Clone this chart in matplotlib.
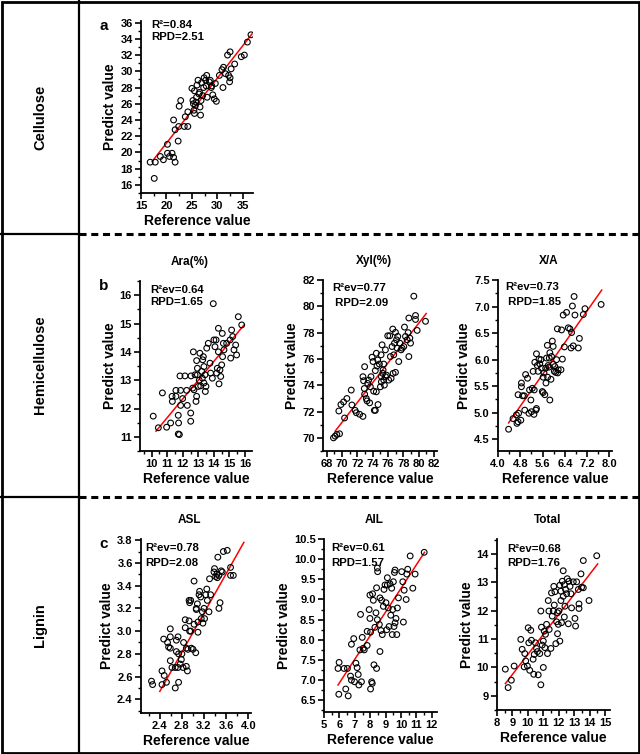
import numpy as np
import matplotlib
matplotlib.use("Agg")
import matplotlib.pyplot as plt
from matplotlib.lines import Line2D
from matplotlib.patches import Rectangle
from matplotlib.ticker import MultipleLocator, AutoMinorLocator, FormatStrFormatter

plt.rcParams['font.family'] = ['Liberation Sans', 'DejaVu Sans']
plt.rcParams['font.weight'] = 'bold'

# ---- data ----
cel_x = [16.8, 17.8, 17.6, 18.8, 19.4, 20.2, 20.2, 20.6, 21.1, 21.4, 21.7, 21.4, 21.7, 22.3, 22.4,
         22.5, 22.8, 23.5, 23.7, 24.2, 24.2, 25.0, 25.2, 25.4, 25.5, 25.7, 25.8, 25.9, 25.5, 26.0,
         26.2, 26.5, 26.6, 26.7, 26.8, 26.9, 27.1, 27.3, 27.7, 27.8, 27.9, 28.0, 28.4, 28.8, 28.9,
         29.1, 29.4, 29.8, 29.6, 30.4, 30.9, 31.2, 31.1, 31.6, 32.0, 32.5, 32.2, 32.5, 32.7, 32.4,
         33.4, 34.7, 35.3, 35.9, 36.6, 28.6, 27.4, 25.3, 26.4]
cel_y = [18.8, 18.8, 16.8, 19.5, 19.1, 21.0, 19.9, 19.5, 19.9, 19.4, 18.8, 24.0, 22.8, 21.4, 23.2,
         25.7, 26.4, 23.2, 24.4, 23.2, 25.0, 27.9, 26.4, 25.2, 24.8, 25.8, 26.2, 26.8, 27.6, 28.3,
         28.9, 27.4, 25.6, 24.6, 26.4, 28.6, 27.0, 28.0, 28.9, 28.2, 29.5, 26.8, 28.7, 28.0, 28.2,
         27.1, 26.6, 26.3, 28.5, 29.5, 30.2, 30.5, 28.0, 29.7, 32.0, 32.4, 29.5, 29.2, 30.3, 28.7,
         30.9, 31.8, 32.0, 33.6, 34.5, 28.9, 29.2, 26.0, 27.2]
cel_fit_x = [17.2, 36.8]
cel_fit_y = [18.9, 34.6]

ara_x = [10.10, 10.43, 10.69, 10.96, 11.22, 11.31, 11.33, 11.56, 11.56, 11.71, 11.73, 11.71, 11.78,
         11.82, 11.86, 11.86, 11.99, 12.14, 12.25, 12.29, 12.51, 12.51, 12.53, 12.64, 12.68, 12.72,
         12.79, 12.85, 12.89, 12.89, 12.94, 12.94, 13.00, 13.06, 13.10, 13.15, 13.21, 13.26, 13.28,
         13.32, 13.36, 13.36, 13.43, 13.45, 13.49, 13.54, 13.64, 13.75, 13.79, 13.90, 13.96, 14.00,
         14.07, 14.14, 14.18, 14.22, 14.29, 14.29, 14.33, 14.39, 14.44, 14.50, 14.54, 14.56, 14.61,
         14.65, 14.82, 15.04, 15.08, 15.14, 15.21, 15.29, 15.40, 15.46, 15.57, 15.79]
ara_y = [11.73, 11.32, 12.55, 11.34, 11.49, 12.43, 12.25, 12.64, 12.43, 11.76, 11.49, 11.10, 11.08,
         13.15, 12.64, 12.11, 12.35, 13.15, 12.64, 12.11, 11.84, 11.55, 13.15, 12.72, 14.00, 12.66,
         13.19, 12.25, 13.69, 12.43, 13.42, 13.19, 12.78, 13.00, 13.95, 12.80, 13.31, 13.07, 13.72,
         13.83, 13.48, 12.90, 13.19, 12.60, 12.78, 14.13, 14.30, 13.60, 13.25, 13.07, 15.70, 14.42,
         14.18, 14.42, 13.25, 13.42, 14.83, 14.00, 12.87, 13.36, 13.13, 13.54, 14.65, 13.83, 14.30,
         14.07, 14.30, 14.42, 13.78, 14.77, 14.54, 14.07, 14.24, 13.89, 15.24, 14.95]
ara_fit_x = [10.28, 15.94]
ara_fit_y = [11.20, 14.95]

xyl_x = [68.87, 69.09, 69.31, 69.66, 69.57, 69.84, 70.19, 70.32, 70.62, 71.19, 71.28, 71.70, 71.85,
         72.29, 72.72, 72.72, 72.81, 72.90, 72.94, 72.94, 73.16, 73.25, 73.34, 73.47, 73.60, 73.69,
         73.77, 73.91, 74.04, 74.12, 74.21, 74.34, 74.34, 74.47, 74.47, 74.56, 74.65, 74.69, 74.87,
         75.00, 75.09, 75.13, 75.13, 75.22, 75.31, 75.35, 75.44, 75.44, 75.52, 75.66, 75.66, 75.79,
         75.96, 76.09, 76.22, 76.31, 76.40, 76.53, 76.62, 76.66, 76.75, 76.84, 76.97, 76.97, 77.10,
         77.19, 77.27, 77.40, 77.54, 77.71, 77.84, 78.06, 78.15, 78.28, 78.50, 78.63, 78.72, 78.72,
         78.85, 78.94, 79.37, 79.59, 79.59, 79.81, 80.90]
xyl_y = [70.00, 70.13, 70.26, 70.31, 72.04, 72.53, 72.73, 71.51, 72.99, 73.63, 72.50, 72.09, 71.91,
         71.79, 71.63, 74.65, 74.34, 73.75, 73.32, 75.41, 72.99, 72.81, 74.14, 74.39, 72.66, 73.88,
         74.65, 76.13, 75.80, 73.55, 72.09, 75.11, 72.09, 73.50, 76.43, 75.46, 75.92, 72.53, 75.61,
         73.88, 76.31, 74.65, 74.26, 77.07, 74.90, 75.16, 75.61, 74.39, 74.01, 76.69, 74.65, 74.77,
         77.76, 74.39, 77.76, 76.18, 74.52, 76.94, 78.27, 74.90, 76.31, 77.20, 74.98, 78.02, 77.45,
         76.82, 77.71, 75.80, 77.20, 76.69, 76.82, 76.94, 78.42, 77.71, 77.45, 78.00, 76.18, 79.11,
         77.58, 77.20, 80.77, 79.00, 79.30, 78.17, 78.86]
xyl_fit_x = [69.09, 80.99]
xyl_fit_y = [70.51, 79.45]

xa_x = [4.38, 4.54, 4.66, 4.68, 4.72, 4.74, 4.82, 4.72, 4.84, 4.84, 4.88, 4.94, 4.96, 4.99, 5.06,
        5.11, 5.13, 5.18, 5.20, 5.23, 5.26, 5.29, 5.30, 5.32, 5.36, 5.38, 5.38, 5.41, 5.44, 5.47,
        5.50, 5.54, 5.56, 5.59, 5.62, 5.62, 5.65, 5.68, 5.71, 5.72, 5.74, 5.77, 5.78, 5.80, 5.83,
        5.84, 5.86, 5.86, 5.90, 5.92, 5.95, 5.98, 5.98, 6.02, 6.04, 6.07, 6.10, 6.13, 6.14, 6.16,
        6.26, 6.28, 6.31, 6.34, 6.38, 6.46, 6.52, 6.58, 6.62, 6.64, 6.67, 6.70, 6.73, 6.76, 6.88,
        6.92, 7.06, 7.12, 7.70]
xa_y = [4.69, 4.89, 4.96, 4.80, 4.83, 4.99, 4.86, 5.34, 5.56, 5.49, 5.32, 5.32, 5.05, 5.72, 5.65,
        4.99, 5.43, 5.24, 5.02, 5.46, 5.78, 4.97, 5.43, 5.95, 5.05, 5.08, 6.11, 5.89, 5.78, 6.01,
        5.92, 6.00, 5.84, 5.40, 5.67, 5.38, 5.75, 5.34, 5.84, 5.56, 6.03, 6.27, 5.67, 5.89, 5.86,
        6.03, 5.24, 6.13, 5.63, 6.06, 6.35, 6.25, 5.91, 5.78, 5.87, 5.76, 6.00, 6.58, 5.75, 5.81,
        5.81, 6.56, 6.01, 6.84, 6.24, 6.89, 6.60, 6.58, 6.22, 6.51, 7.01, 6.26, 7.19, 6.84, 6.22,
        6.40, 6.85, 6.96, 7.04]
xa_fit_x = [4.38, 7.72]
xa_fit_y = [4.81, 7.31]

asl_x = [2.25, 2.27, 2.44, 2.44, 2.47, 2.48, 2.52, 2.54, 2.56, 2.59, 2.59, 2.59, 2.59, 2.62, 2.68,
         2.68, 2.70, 2.70, 2.73, 2.73, 2.74, 2.74, 2.77, 2.79, 2.80, 2.82, 2.83, 2.86, 2.86, 2.88,
         2.88, 2.90, 2.91, 2.93, 2.93, 2.94, 2.94, 2.96, 2.96, 2.97, 3.00, 3.02, 3.02, 3.05, 3.06,
         3.06, 3.08, 3.09, 3.09, 3.11, 3.12, 3.14, 3.15, 3.17, 3.18, 3.20, 3.21, 3.23, 3.25, 3.26,
         3.29, 3.30, 3.32, 3.38, 3.39, 3.41, 3.43, 3.44, 3.45, 3.47, 3.47, 3.49, 3.51, 3.53, 3.55,
         3.62, 3.68, 3.68, 3.73]
asl_y = [2.56, 2.53, 2.65, 2.53, 2.93, 2.61, 2.55, 2.90, 2.86, 3.02, 2.95, 2.85, 2.74, 2.68, 2.50,
         2.68, 2.92, 2.82, 2.68, 2.95, 2.55, 2.80, 2.71, 2.75, 2.80, 2.68, 2.90, 3.10, 3.03, 2.69,
         2.85, 2.65, 2.84, 3.27, 3.09, 3.00, 3.25, 3.27, 3.00, 2.85, 2.84, 3.44, 3.06, 2.81, 3.20,
         3.19, 3.24, 3.08, 2.99, 3.32, 3.35, 3.30, 3.11, 3.17, 3.07, 3.20, 3.11, 3.32, 3.37, 3.27,
         3.17, 3.46, 3.32, 3.52, 3.55, 3.48, 3.50, 3.47, 3.65, 3.49, 3.20, 3.25, 3.53, 3.52, 3.70,
         3.71, 3.56, 3.49, 3.49]
asl_fit_x = [2.40, 3.92]
asl_fit_y = [2.47, 3.78]

ail_x = [5.91, 5.96, 5.98, 6.30, 6.41, 6.52, 6.57, 6.72, 6.78, 6.78, 6.93, 6.98, 7.07, 7.15, 7.22,
         7.26, 7.33, 7.37, 7.43, 7.48, 7.54, 7.61, 7.80, 7.80, 7.93, 7.98, 7.98, 8.02, 8.02, 8.09,
         8.13, 8.15, 8.20, 8.24, 8.30, 8.37, 8.41, 8.41, 8.46, 8.46, 8.48, 8.59, 8.63, 8.63, 8.70,
         8.74, 8.78, 8.85, 8.89, 8.96, 9.02, 9.07, 9.11, 9.11, 9.17, 9.22, 9.28, 9.33, 9.39, 9.43,
         9.46, 9.50, 9.54, 9.57, 9.61, 9.61, 9.67, 9.72, 9.76, 9.83, 10.04, 10.11, 10.15, 10.20,
         10.33, 10.37, 10.43, 10.59, 10.76, 10.91, 11.50]
ail_y = [7.29, 6.65, 7.44, 7.29, 6.78, 7.29, 6.61, 7.10, 7.00, 7.89, 8.03, 6.96, 7.42, 7.31, 7.14,
         6.88, 7.75, 8.63, 6.96, 8.06, 7.79, 7.75, 7.86, 8.21, 8.75, 8.53, 9.11, 8.19, 6.78, 6.96,
         6.92, 9.14, 8.98, 7.38, 8.31, 8.67, 9.29, 7.29, 8.50, 9.78, 9.69, 8.38, 9.04, 7.71, 8.23,
         8.98, 8.13, 8.83, 9.25, 9.36, 8.92, 8.25, 9.36, 9.54, 8.79, 8.33, 9.39, 8.61, 9.28, 8.13,
         8.75, 9.44, 8.33, 9.67, 9.73, 8.42, 8.53, 8.13, 8.79, 9.04, 9.69, 9.44, 8.44, 9.23,
         9.00, 9.63, 9.75, 10.08, 9.28, 9.63, 10.17]
ail_fit_x = [5.91, 11.52]
ail_fit_y = [6.88, 10.17]

tot_x = [8.54, 8.72, 8.93, 9.11, 9.54, 9.63, 9.76, 9.80, 9.86, 9.97, 10.02, 10.06, 10.12, 10.19,
         10.23, 10.34, 10.38, 10.41, 10.49, 10.56, 10.62, 10.67, 10.77, 10.84, 10.84, 10.88, 10.93,
         11.00, 11.00, 11.06, 11.10, 11.14, 11.21, 11.27, 11.32, 11.36, 11.38, 11.49, 11.53, 11.58,
         11.64, 11.68, 11.71, 11.75, 11.81, 11.86, 11.92, 11.92, 11.97, 12.01, 12.07, 12.07, 12.14,
         12.14, 12.18, 12.23, 12.29, 12.29, 12.36, 12.36, 12.40, 12.44, 12.51, 12.55, 12.62, 12.66,
         12.73, 12.79, 12.83, 12.94, 13.05, 13.09, 13.16, 13.27, 13.31, 13.31, 13.44, 13.48, 13.59,
         13.59, 13.96, 14.46]
tot_y = [9.94, 9.29, 9.55, 10.05, 10.99, 10.64, 10.02, 10.49, 10.23, 10.05, 11.40, 10.87, 9.90,
         11.31, 10.96, 10.29, 9.76, 10.46, 10.87, 10.67, 10.56, 9.74, 10.49, 11.99, 9.39, 11.42,
         10.79, 10.00, 10.93, 11.28, 10.70, 11.17, 11.52, 10.49, 12.36, 11.99, 11.34, 10.67, 12.63,
         11.81, 11.99, 12.86, 12.20, 12.67, 10.84, 11.61, 11.93, 11.19, 11.52, 11.99, 12.90, 10.93,
         12.69, 12.36, 11.58, 13.04, 13.41, 12.51, 12.92, 11.78, 12.16, 12.75, 12.60, 13.13, 11.54,
         13.04, 12.86, 12.60, 12.10, 13.02, 11.73, 11.46, 13.02, 12.75, 12.08, 12.24, 13.30, 12.83,
         13.77, 12.81, 12.36, 13.94]
tot_fit_x = [8.54, 14.52]
tot_fit_y = [9.43, 13.65]

W, H = 640, 754
fig = plt.figure(figsize=(W / 100, H / 100), dpi=100)


def box(l, t, r, b):
    return [l / W, 1 - b / H, (r - l) / W, (b - t) / H]


def hline(x0, x1, y, **kw):
    fig.add_artist(Line2D([x0 / W, x1 / W], [1 - y / H, 1 - y / H], color='black', **kw))


def vline(x, y0, y1, **kw):
    fig.add_artist(Line2D([x / W, x / W], [1 - y0 / H, 1 - y1 / H], color='black', **kw))


# frame and separators
fig.add_artist(Rectangle((1.5 / W, 1.5 / H), (W - 3) / W, (H - 3) / H, fill=False,
                         edgecolor='black', linewidth=2.0, transform=fig.transFigure))
vline(79, 0, H, linewidth=1.6)
for ysep in (234, 497):
    hline(0, 79, ysep, linewidth=1.6)
    hline(79, W, ysep, linewidth=2.2, linestyle=(0, (2.3, 1.55)))

for label, yc in (("Cellulose", 117), ("Hemicellulose", 365), ("Lignin", 625)):
    fig.text(40 / W, 1 - yc / H, label, rotation=90, ha='center', va='center',
             fontsize=10.5, fontweight='bold')

# (x, y, fit x, fit y, axes box px, xlim, ylim, x step, y step, x fmt, y fmt,
#  title, R2 text, RPD text, panel letter, text x offset px, text y offsets px)
panels = [
    (cel_x, cel_y, cel_fit_x, cel_fit_y, (141, 21, 253, 193), (15, 37), (15, 36.2), 5, 2,
     '%d', '%d', None, "R²=0.84", "RPD=2.51", 'a', 10, (4, 16)),
    (ara_x, ara_y, ara_fit_x, ara_fit_y, (140, 281, 252, 451), (9.25, 16.45), (10.5, 16.5), 1, 1,
     '%d', '%d', "Ara(%)", "R²ev=0.64", "RPD=1.65", 'b', 10, (9, 21)),
    (xyl_x, xyl_y, xyl_fit_x, xyl_fit_y, (323, 280, 437, 451), (67.5, 82.4), (69, 82), 2, 2,
     '%d', '%d', "Xyl(%)", "R²ev=0.77", " RPD=2.09", None, 9, (8, 23)),
    (xa_x, xa_y, xa_fit_x, xa_fit_y, (498, 280, 612, 451), (4.0, 8.09), (4.28, 7.5), 0.8, 0.5,
     '%.1f', '%.1f', "X/A", "R²ev=0.73", " RPD=1.85", None, 7, (7, 22)),
    (asl_x, asl_y, asl_fit_x, asl_fit_y, (141, 539, 251, 713), (2.06, 4.05), (2.28, 3.81), 0.4, 0.2,
     '%.1f', '%.1f', "ASL", "R²ev=0.78", "RPD=2.08", 'c', 4, (9, 24)),
    (ail_x, ail_y, ail_fit_x, ail_fit_y, (324, 539, 437, 712), (5, 12.33), (6.21, 10.5), 1, 0.5,
     '%d', '%.1f', "AIL", "R²ev=0.61", "RPD=1.57", None, 7, (9, 24)),
    (tot_x, tot_y, tot_fit_x, tot_fit_y, (497, 539, 610, 710), (8, 15.32), (8.5, 14.53), 1, 1,
     '%d', '%d', "Total", "R²ev=0.68", "RPD=1.76", None, 10, (10, 24)),
]

for (px, py, fx, fy, pos, xl, yl, xstep, ystep, xfmt, yfmt, title, r2, rpd, letter,
     tx, (ty1, ty2)) in panels:
    l, t, r, b = pos
    ax = fig.add_axes(box(*pos))
    ax.scatter(px, py, s=17, facecolors='none', edgecolors='black', linewidths=0.8, zorder=3)
    ax.plot(fx, fy, color='red', linewidth=1.1, zorder=2)
    ax.set_xlim(*xl)
    ax.set_ylim(*yl)
    ax.xaxis.set_major_locator(MultipleLocator(xstep))
    ax.yaxis.set_major_locator(MultipleLocator(ystep))
    ax.xaxis.set_minor_locator(AutoMinorLocator(2))
    ax.yaxis.set_minor_locator(AutoMinorLocator(2))
    ax.xaxis.set_major_formatter(FormatStrFormatter(xfmt))
    ax.yaxis.set_major_formatter(FormatStrFormatter(yfmt))
    for s in ('top', 'right'):
        ax.spines[s].set_visible(False)
    for s in ('left', 'bottom'):
        ax.spines[s].set_linewidth(1.3)
    ax.tick_params(which='major', direction='out', length=4, width=1.2, labelsize=8, pad=2)
    ax.tick_params(which='minor', direction='out', length=2, width=1.0)
    for lab in ax.get_xticklabels() + ax.get_yticklabels():
        lab.set_fontweight('bold')
    ax.set_xlabel("Reference value", fontsize=10, fontweight='bold', labelpad=2)
    ax.set_ylabel("Predict value", fontsize=10, fontweight='bold', labelpad=2)
    fig.text((l + tx) / W, 1 - (t + ty1) / H, r2, fontsize=8.2, fontweight='bold',
             ha='left', va='center')
    fig.text((l + tx) / W, 1 - (t + ty2) / H, rpd, fontsize=8.2, fontweight='bold',
             ha='left', va='center')
    if title:
        fig.text((l + r) / 2 / W - 0.01, 1 - (t - 19) / H, title, ha='center', va='center',
                 fontsize=8.5, fontweight='bold')
    if letter:
        fig.text(104 / W, 1 - (t + 5) / H, letter, ha='center', va='center',
                 fontsize=11, fontweight='bold')

fig.savefig("out.png", dpi=100)
